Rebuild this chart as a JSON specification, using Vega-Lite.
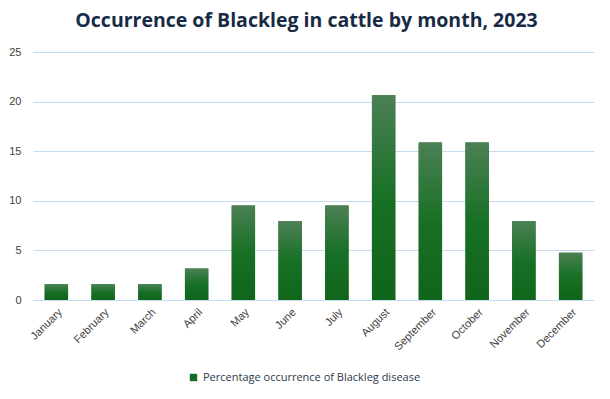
{
  "$schema": "https://vega.github.io/schema/vega-lite/v6.json",
  "width": 561,
  "height": 248,
  "autosize": {"type": "none"},
  "padding": {"left": 33, "top": 52, "right": 16, "bottom": 99},
  "background": "#ffffff",
  "title": {
    "text": "Occurrence of Blackleg in cattle by month, 2023",
    "font": "Open Sans",
    "fontSize": 19.5,
    "fontWeight": "bold",
    "color": "#172b45",
    "anchor": "middle",
    "frame": "group",
    "offset": 15,
    "dx": -7
  },
  "data": {
    "values": [
      {"month": "January", "pct": 1.59, "series": "Percentage occurrence of Blackleg disease"},
      {"month": "February", "pct": 1.59, "series": "Percentage occurrence of Blackleg disease"},
      {"month": "March", "pct": 1.59, "series": "Percentage occurrence of Blackleg disease"},
      {"month": "April", "pct": 3.17, "series": "Percentage occurrence of Blackleg disease"},
      {"month": "May", "pct": 9.52, "series": "Percentage occurrence of Blackleg disease"},
      {"month": "June", "pct": 7.94, "series": "Percentage occurrence of Blackleg disease"},
      {"month": "July", "pct": 9.52, "series": "Percentage occurrence of Blackleg disease"},
      {"month": "August", "pct": 20.63, "series": "Percentage occurrence of Blackleg disease"},
      {"month": "September", "pct": 15.87, "series": "Percentage occurrence of Blackleg disease"},
      {"month": "October", "pct": 15.87, "series": "Percentage occurrence of Blackleg disease"},
      {"month": "November", "pct": 7.94, "series": "Percentage occurrence of Blackleg disease"},
      {"month": "December", "pct": 4.76, "series": "Percentage occurrence of Blackleg disease"}
    ]
  },
  "encoding": {
    "x": {
      "field": "month",
      "type": "nominal",
      "sort": null,
      "scale": {"paddingInner": 0.5, "paddingOuter": 0.25},
      "axis": {
        "title": null,
        "labelAngle": -45,
        "labelFont": "Liberation Sans",
        "labelFontSize": 11,
        "labelColor": "#404040",
        "ticks": false,
        "domain": false,
        "labelPadding": 6
      }
    },
    "y": {
      "field": "pct",
      "type": "quantitative",
      "scale": {"domain": [0, 25]},
      "axis": {
        "title": null,
        "values": [0, 5, 10, 15, 20, 25],
        "labelFont": "Liberation Sans",
        "labelFontSize": 11,
        "labelColor": "#404040",
        "ticks": false,
        "domain": false,
        "labelPadding": 12,
        "gridColor": "#c8dcf0",
        "gridWidth": 1
      }
    }
  },
  "layer": [
    {
      "mark": {"type": "bar"},
      "encoding": {
        "color": {
          "field": "series",
          "type": "nominal",
          "scale": {"range": ["#176b22"]},
          "legend": {
            "title": null,
            "orient": "none",
            "legendX": 155,
            "legendY": 320,
            "direction": "horizontal",
            "symbolType": "square",
            "symbolSize": 55,
            "symbolStrokeWidth": 0,
            "labelFont": "Open Sans",
            "labelFontSize": 11,
            "labelLimit": 0,
            "labelOffset": 4,
            "labelColor": "#2a3a4e"
          }
        }
      }
    },
    {
      "mark": {
        "type": "bar",
        "color": {
          "gradient": "linear",
          "x1": 0, "y1": 0, "x2": 0, "y2": 1,
          "stops": [
            {"offset": 0, "color": "#4c8055"},
            {"offset": 0.5, "color": "#187026"},
            {"offset": 1, "color": "#0f651a"}
          ]
        }
      }
    }
  ],
  "config": {
    "view": {"stroke": null}
  }
}
